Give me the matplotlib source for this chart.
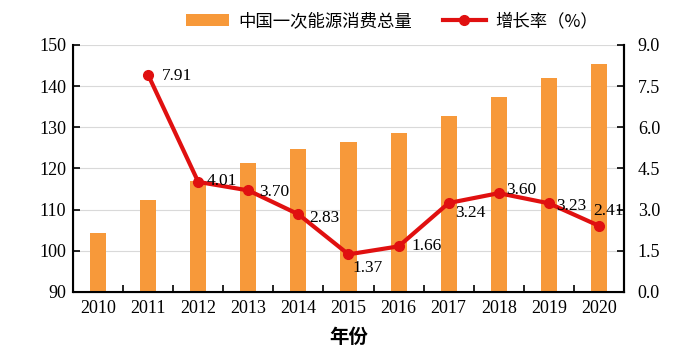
import numpy as np
import matplotlib.pyplot as plt
from matplotlib.ticker import MultipleLocator, FixedLocator

plt.rcParams['font.family'] = ['Liberation Serif', 'Noto Sans CJK SC']

years = ['2010', '2011', '2012', '2013', '2014', '2015', '2016', '2017', '2018', '2019', '2020']
consumption = [104.2, 112.3, 117.0, 121.4, 124.8, 126.4, 128.7, 132.8, 137.4, 142.1, 145.4]
growth_years = ['2011', '2012', '2013', '2014', '2015', '2016', '2017', '2018', '2019', '2020']
growth = [7.91, 4.01, 3.70, 2.83, 1.37, 1.66, 3.24, 3.60, 3.23, 2.41]

# label offsets in points (dx, dy)
offsets = [(10, -1), (6, 1), (8, -1), (8, -3), (3, -10), (9, 0), (5, -7), (5, 2), (5, -2), (-4, 11)]

bar_color = '#F7993A'
line_color = '#E01010'

fig = plt.figure(figsize=(6.92, 3.56), dpi=100)
ax1 = fig.add_axes([0.1055, 0.18, 0.7962, 0.6936])
x = np.arange(len(years))
ax1.bar(x, consumption, width=0.32, color=bar_color, zorder=2, label='中国一次能源消费总量')
ax1.set_ylim(90, 150)
ax1.set_xlim(-0.5, len(years) - 0.5)
ax1.yaxis.set_major_locator(MultipleLocator(10))
ax1.yaxis.grid(True, color='#D9D9D9', linewidth=0.8, zorder=0)
ax1.set_axisbelow(True)
ax1.set_xticks(x)
ax1.set_xticklabels(years, fontsize=13)
ax1.xaxis.set_minor_locator(FixedLocator(np.arange(0.5, len(years) - 1, 1)))
ax1.tick_params(axis='x', which='major', length=0, pad=6)
ax1.tick_params(axis='x', which='minor', direction='in', length=5, width=1.2)
ax1.tick_params(axis='y', direction='in', length=5, width=1.2, labelsize=13, pad=5)
ax1.spines['top'].set_visible(False)
for s in ['left', 'bottom', 'right']:
    ax1.spines[s].set_linewidth(1.5)
ax1.set_xlabel('年份', fontsize=14, fontweight='bold', family=['Noto Sans CJK SC'], labelpad=8)

ax2 = ax1.twinx()
gx = [years.index(y) for y in growth_years]
ax2.plot(gx, growth, color=line_color, linewidth=3, marker='o', markersize=7,
         label='增长率（%）', zorder=3)
ax2.set_ylim(0, 9)
ax2.yaxis.set_major_locator(MultipleLocator(1.5))
ax2.yaxis.set_major_formatter(plt.FuncFormatter(lambda v, p: f'{v:.1f}'))
ax2.tick_params(axis='y', direction='in', length=5, width=1.2, labelsize=13, pad=10)
ax2.spines['top'].set_visible(False)
ax2.spines['right'].set_linewidth(1.5)
for xi, v, (dx, dy) in zip(gx, growth, offsets):
    ax2.annotate(f'{v:.2f}', (xi, v), xytext=(dx, dy), textcoords='offset points',
                 ha='left', va='center', fontsize=12.5)

h1, l1 = ax1.get_legend_handles_labels()
h2, l2 = ax2.get_legend_handles_labels()
fig.legend(h1 + h2, l1 + l2, loc='upper center', bbox_to_anchor=(0.566, 1.01), ncol=2,
           frameon=False, prop={'family': ['Noto Sans CJK SC'], 'size': 12.5},
           handlelength=2.5, columnspacing=1.8, handletextpad=0.5)

fig.savefig('out.png', dpi=100)
